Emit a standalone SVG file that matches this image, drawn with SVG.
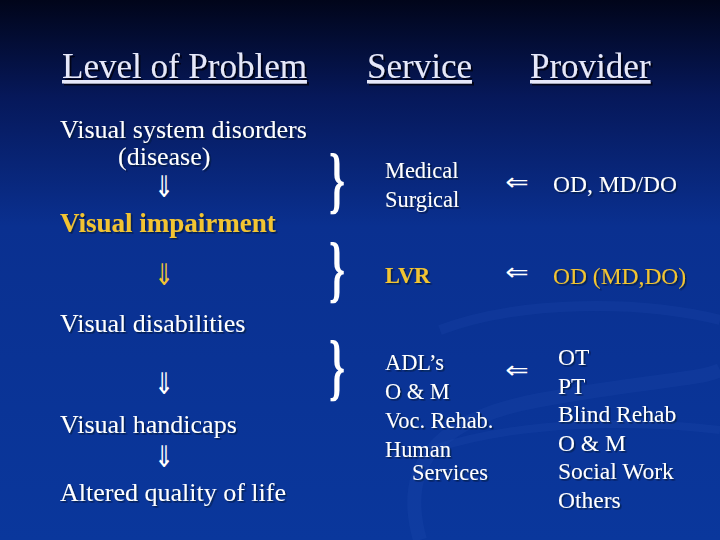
<svg xmlns="http://www.w3.org/2000/svg" width="720" height="540" viewBox="0 0 720 540">
<defs>
<linearGradient id="bg" x1="0" y1="0" x2="0" y2="540" gradientUnits="userSpaceOnUse">
<stop offset="0" stop-color="#01051a"/>
<stop offset="0.18" stop-color="#06185a"/>
<stop offset="0.42" stop-color="#0a3090"/>
<stop offset="1" stop-color="#0a379c"/>
</linearGradient>
<filter id="sh" x="-5%" y="-20%" width="110%" height="140%">
<feDropShadow dx="2" dy="2" stdDeviation="0.6" flood-color="#000010" flood-opacity="0.85"/>
</filter>
<filter id="sh2" x="-5%" y="-20%" width="110%" height="140%">
<feDropShadow dx="1.5" dy="1.5" stdDeviation="0.5" flood-color="#000820" flood-opacity="0.6"/>
</filter>
</defs>
<style>
.hd{font-family:"Liberation Serif",serif;font-size:35px;fill:#e6e8fa;text-decoration:underline}
.t{font-family:"Liberation Serif",serif;font-size:26px;fill:#ffffff}
.s{font-family:"Liberation Serif",serif;font-size:22.4px;fill:#ffffff}
.p{font-family:"Liberation Serif",serif;font-size:23.5px;fill:#ffffff}
.y{fill:#f2c431}
.b{font-weight:bold}
.ad{font-family:"DejaVu Sans",sans-serif;font-size:30px;fill:#ffffff;text-anchor:middle}
.al{font-family:"DejaVu Sans",sans-serif;font-size:28px;fill:#ffffff;text-anchor:middle}
.br{font-family:"Liberation Serif",serif;font-weight:bold;font-size:74px;fill:#ffffff}
</style>
<rect width="720" height="540" fill="url(#bg)"/>
<g id="swoosh" fill="none" stroke="#2a56b8" stroke-opacity="0.16">
<path d="M420 540 C 400 470, 430 420, 540 400 S 700 380, 720 370" stroke-width="14"/>
<path d="M440 330 C 520 300, 640 300, 720 320" stroke-width="10"/>
<path d="M430 450 C 520 420, 640 420, 720 430" stroke-width="8"/>
</g>
<g id="headers" filter="url(#sh)">
<text class="hd" x="62" y="78">Level of Problem</text>
<text class="hd" x="367" y="78">Service</text>
<text class="hd" x="530" y="78">Provider</text>
</g>
<g id="levels" filter="url(#sh2)">
<g id="n-disorders"><text class="t" x="60" y="138">Visual system disorders</text><text class="t" x="118" y="165">(disease)</text></g>
<g id="n-impairment"><text class="t y b" x="60" y="232" style="font-size:27px">Visual impairment</text></g>
<g id="n-disabilities"><text class="t" x="60" y="332">Visual disabilities</text></g>
<g id="n-handicaps"><text class="t" x="60" y="433">Visual handicaps</text></g>
<g id="n-quality"><text class="t" x="60" y="501">Altered quality of life</text></g>
</g>
<g id="connectors">
<text class="ad" transform="translate(164,197) scale(0.78,1)">⇓</text>
<text class="ad" transform="translate(164,285) scale(0.78,1)" style="fill:#f2c431">⇓</text>
<text class="ad" transform="translate(164,394) scale(0.78,1)">⇓</text>
<text class="ad" transform="translate(164,467) scale(0.78,1)">⇓</text>
<text class="al" transform="translate(517,190) scale(1,0.85)">⇐</text>
<text class="al" transform="translate(517,280) scale(1,0.85)">⇐</text>
<text class="al" transform="translate(517,378) scale(1,0.85)">⇐</text>
</g>
<g id="braces">
<text class="br" transform="translate(329,205) scale(0.55,1)">}</text>
<text class="br y" transform="translate(329,294) scale(0.55,1)">}</text>
<text class="br" transform="translate(329,392) scale(0.55,1)">}</text>
</g>
<g id="services" filter="url(#sh2)">
<g id="s-medical"><text class="s" x="385" y="178">Medical</text><text class="s" x="385" y="207">Surgical</text></g>
<g id="s-lvr"><text class="s y b" x="385" y="283">LVR</text></g>
<g id="s-adl"><text class="s" x="385" y="370">ADL’s</text><text class="s" x="385" y="399">O &amp; M</text><text class="s" x="385" y="428">Voc. Rehab.</text><text class="s" x="385" y="457">Human</text><text class="s" x="412" y="480">Services</text></g>
</g>
<g id="providers" filter="url(#sh2)">
<g id="p-od"><text class="p" x="553" y="192">OD, MD/DO</text></g>
<g id="p-od2"><text class="p y" x="553" y="284">OD (MD,DO)</text></g>
<g id="p-list"><text class="p" x="558" y="365">OT</text><text class="p" x="558" y="394">PT</text><text class="p" x="558" y="422">Blind Rehab</text><text class="p" x="558" y="451">O &amp; M</text><text class="p" x="558" y="479">Social Work</text><text class="p" x="558" y="508">Others</text></g>
</g>
</svg>
